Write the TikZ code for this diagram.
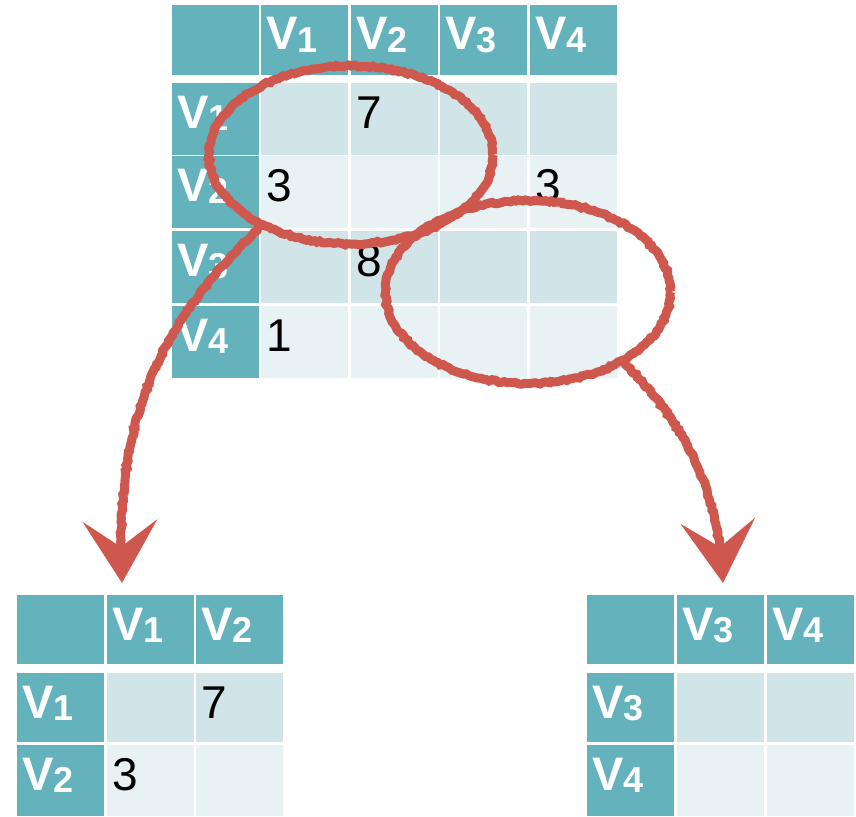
\documentclass[tikz,border=0pt]{standalone}
\usepackage{fontspec}
\setmainfont{Liberation Sans}
\usetikzlibrary{shapes.geometric,arrows.meta,decorations.pathmorphing}
\definecolor{hdr}{RGB}{100,178,188}
\definecolor{rowa}{RGB}{209,228,232}
\definecolor{rowb}{RGB}{232,241,243}
\definecolor{chalk}{RGB}{207,88,78}
\newcommand\vlab[1]{{\fontsize{47}{47}\selectfont\bfseries V\raisebox{-2pt}{\fontsize{36}{36}\selectfont #1}}}
\newcommand\numlab[1]{{\fontsize{46}{46}\selectfont #1}}
\newcommand\cellat[6]{\node[#6, minimum width=#4pt, minimum height=#5pt] (#1) at (#2,#3) {};}
\newcommand\celltext[3]{\node[#3] (#1t) at ([shift={(5,45)}]#1.north west) {#2};}
\tikzset{
  cellbox/.style={inner sep=0pt, outer sep=0pt, draw=none, anchor=north west},
  hd/.style={cellbox, fill=hdr},
  ra/.style={cellbox, fill=rowa},
  rb/.style={cellbox, fill=rowb},
  vtxt/.style={anchor=base west, inner sep=0pt, text=white},
  ntxt/.style={anchor=base west, inner sep=0pt, text=black},
  ring/.style={ellipse, draw=chalk, line width=9pt, inner sep=0pt, outer sep=0pt,
    decorate, decoration={random steps, segment length=3pt, amplitude=1pt}},
  chalkarrow/.style={draw=chalk, line width=9pt, line cap=round,
    -{Stealth[length=62pt,width=74pt,inset=26pt]},
    decorate, decoration={random steps, segment length=3pt, amplitude=1pt, pre length=2pt, post length=30pt}}
}
\begin{document}
\begin{tikzpicture}[x=1pt,y=-1pt]
\useasboundingbox (0,0) rectangle (856,816);
% ---------- top table ----------
\cellat{h0}{172}{5}{87}{70}{hd}
\cellat{h1}{261}{5}{87}{70}{hd}
\cellat{h2}{351}{5}{87}{70}{hd}
\cellat{h3}{440}{5}{87}{70}{hd}
\cellat{h4}{530}{5}{87}{70}{hd}
\celltext{h1}{\vlab{1}}{vtxt}
\celltext{h2}{\vlab{2}}{vtxt}
\celltext{h3}{\vlab{3}}{vtxt}
\celltext{h4}{\vlab{4}}{vtxt}
% row 1
\cellat{r10}{172}{83}{87}{72}{hd}
\cellat{r11}{261}{83}{87}{72}{ra}
\cellat{r12}{351}{83}{87}{72}{ra}
\cellat{r13}{440}{83}{87}{72}{ra}
\cellat{r14}{530}{83}{87}{72}{ra}
\celltext{r10}{\vlab{1}}{vtxt}
\celltext{r12}{\numlab{7}}{ntxt}
% row 2
\cellat{r20}{172}{156}{87}{72}{hd}
\cellat{r21}{261}{156}{87}{72}{rb}
\cellat{r22}{351}{156}{87}{72}{rb}
\cellat{r23}{440}{156}{87}{72}{rb}
\cellat{r24}{530}{156}{87}{72}{rb}
\celltext{r20}{\vlab{2}}{vtxt}
\celltext{r21}{\numlab{3}}{ntxt}
\celltext{r24}{\numlab{3}}{ntxt}
% row 3
\cellat{r30}{172}{231}{87}{72}{hd}
\cellat{r31}{261}{231}{87}{72}{ra}
\cellat{r32}{351}{231}{87}{72}{ra}
\cellat{r33}{440}{231}{87}{72}{ra}
\cellat{r34}{530}{231}{87}{72}{ra}
\celltext{r30}{\vlab{3}}{vtxt}
\celltext{r32}{\numlab{8}}{ntxt}
% row 4
\cellat{r40}{172}{306}{87}{72}{hd}
\cellat{r41}{261}{306}{87}{72}{rb}
\cellat{r42}{351}{306}{87}{72}{rb}
\cellat{r43}{440}{306}{87}{72}{rb}
\cellat{r44}{530}{306}{87}{72}{rb}
\celltext{r40}{\vlab{4}}{vtxt}
\celltext{r41}{\numlab{1}}{ntxt}
% ---------- bottom left table ----------
\cellat{la0}{17}{595}{87}{69}{hd}
\cellat{la1}{107}{595}{87}{69}{hd}
\cellat{la2}{196}{595}{87}{69}{hd}
\celltext{la1}{\vlab{1}}{vtxt}
\celltext{la2}{\vlab{2}}{vtxt}
\cellat{lb0}{17}{673}{87}{69}{hd}
\cellat{lb1}{107}{673}{87}{69}{ra}
\cellat{lb2}{196}{673}{87}{69}{ra}
\celltext{lb0}{\vlab{1}}{vtxt}
\celltext{lb2}{\numlab{7}}{ntxt}
\cellat{lc0}{17}{745}{87}{71}{hd}
\cellat{lc1}{107}{745}{87}{71}{rb}
\cellat{lc2}{196}{745}{87}{71}{rb}
\celltext{lc0}{\vlab{2}}{vtxt}
\celltext{lc1}{\numlab{3}}{ntxt}
% ---------- bottom right table ----------
\cellat{ra0}{587}{595}{87}{69}{hd}
\cellat{ra1}{677}{595}{87}{69}{hd}
\cellat{ra2}{767}{595}{87}{69}{hd}
\celltext{ra1}{\vlab{3}}{vtxt}
\celltext{ra2}{\vlab{4}}{vtxt}
\cellat{rb0}{587}{673}{87}{69}{hd}
\cellat{rb1}{677}{673}{87}{69}{ra}
\cellat{rb2}{767}{673}{87}{69}{ra}
\celltext{rb0}{\vlab{3}}{vtxt}
\cellat{rc0}{587}{745}{87}{71}{hd}
\cellat{rc1}{677}{745}{87}{71}{rb}
\cellat{rc2}{767}{745}{87}{71}{rb}
\celltext{rc0}{\vlab{4}}{vtxt}
% ---------- rings and arrows ----------
\node[ring, minimum width=284pt, minimum height=178pt] (e1) at (351,155) {};
\node[ring, minimum width=285pt, minimum height=183pt] (e2) at (528,292) {};
\coordinate (tipL) at (122,583);
\coordinate (tipR) at (723,583);
\draw[chalkarrow] (e1.218) .. controls (175,310) and (112,400) .. (tipL);
\draw[chalkarrow] (e2.324) .. controls (680,420) and (718,480) .. (tipR);
\end{tikzpicture}
\end{document}
